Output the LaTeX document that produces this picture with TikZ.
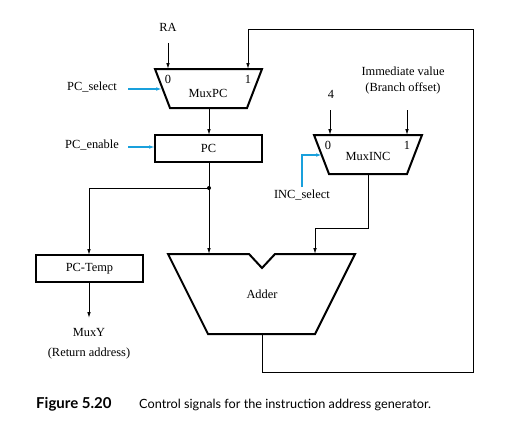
\documentclass[tikz,border=0pt]{standalone}
\usepackage{fontspec}
\setmainfont{Liberation Serif}
\newfontfamily\capfont{Lato}
\usetikzlibrary{arrows.meta,calc}
\definecolor{ctrlblue}{RGB}{25,160,220}
\tikzstyle{wire}=[line width=0.9pt, >={Latex[length=6pt,width=3.6pt]}]
\tikzstyle{blueE}=[line width=1.1pt, ctrlblue, >={Latex[length=6pt,width=3.6pt]}]
\tikzstyle{unitB}=[line width=2pt, line join=miter]
\tikzstyle{regB}=[draw, line width=2pt, minimum width=107pt, minimum height=27pt, inner sep=0pt, outer sep=0pt]
\tikzstyle{lbl}=[inner sep=1pt, font=\fontsize{12.4}{14}\selectfont]

\begin{document}
\begin{tikzpicture}[x=1pt,y=-1pt]
    \useasboundingbox (0,0) rectangle (526,436);

    %%%%%  MuxPC  %%%%%
    \draw [unitB] (155,69) -- (262,69) -- (247,108) -- (170,108) -- cycle;
    \node (muxpc) [lbl] at (208,93) {MuxPC};
    \node (mpc0)  [lbl] at (168,79) {0};
    \node (mpc1)  [lbl] at (248,79) {1};
    \coordinate (mpcIn0) at (168,69);
    \coordinate (mpcIn1) at (248,69);
    \coordinate (mpcOut) at (209,108);
    \coordinate (mpcSel) at (162,89);
    \node (RA)    [lbl] at (168,27) {RA};
    \coordinate (raEnd) at (168,43);
    \node (pcsel) [lbl] at (92,87) {PC\_select};
    \coordinate (pcselEnd) at (128,89);

    %%%%%  PC  %%%%%
    \node (pc) [regB, lbl] at (208.5,148.5) {PC};
    \node (pcen) [lbl] at (92,145) {PC\_enable};
    \coordinate (pcenEnd) at (128,147);
    \coordinate (pcIn) at (155,147);
    \coordinate (jn) at (209,188);
    \coordinate (jnL) at (89,188);

    %%%%%  PC-Temp  %%%%%
    \node (pctemp) [regB, lbl] at (89.5,268.5) {PC-Temp};
    \coordinate (tmpOut) at (89,318);
    \node (muxy) [lbl] at (89,332) {MuxY};
    \node (retad) [lbl] at (89,354) {(Return address)};

    %%%%%  MuxINC  %%%%%
    \draw [unitB] (314,135) -- (422,135) -- (407,174) -- (329,174) -- cycle;
    \node (muxinc) [lbl] at (368,156) {MuxINC};
    \node (minc0)  [lbl] at (328,145) {0};
    \node (minc1)  [lbl] at (407,145) {1};
    \coordinate (mincIn0) at (330,135);
    \coordinate (mincIn1) at (407,135);
    \coordinate (mincOut) at (368,174);
    \coordinate (mincSel) at (322,155);
    \node (four) [lbl] at (331,94) {4};
    \coordinate (fourEnd) at (330,110);
    \node (imm) [lbl] at (403,71) {Immediate value};
    \node (boff) [lbl] at (403,88) {(Branch offset)};
    \coordinate (immEnd) at (407,110);
    \node (incsel) [lbl] at (302,195) {INC\_select};
    \coordinate (incselEnd) at (302,187);

    %%%%%  Adder  %%%%%
    \draw [unitB] (168,254) -- (249,254) -- (262,268) -- (275,254) -- (355,254)
                  -- (315,334) -- (208,334) -- cycle;
    \node (adder) [lbl] at (262,294) {Adder};
    \coordinate (addA) at (209,254);
    \coordinate (addB) at (315,254);
    \coordinate (addOut) at (262,334);

    %%%%%  Conexiones  %%%%%
    \draw [wire, ->] (raEnd) -- (mpcIn0);
    \draw [wire, ->] (mpcOut) -- (pc.north -| mpcOut);
    \draw [wire] (pc.south -| jn) -- (jn);
    \fill (jn) circle (2pt);
    \draw [wire, ->] (jn) -- (jnL) -- (pctemp.north -| jnL);
    \draw [wire, ->] (jn) -- (addA);
    \draw [wire, ->] (pctemp.south -| tmpOut) -- (tmpOut);
    \draw [wire, ->] (fourEnd) -- (mincIn0);
    \draw [wire, ->] (immEnd) -- (mincIn1);
    \draw [wire, ->] (mincOut) -- ($(mincOut)+(0,54)$) -| (addB);
    \draw [wire, ->] (addOut) -- ($(addOut)+(0,38)$) -- ++(211,0) |- ($(mpcIn1)+(0,-40)$) -- (mpcIn1);

    %%%%%  Control  %%%%%
    \draw [blueE, ->] (pcselEnd) -- (mpcSel);
    \draw [blueE, ->] (pcenEnd) -- (pcIn);
    \draw [blueE, ->] (incselEnd) |- (mincSel);

    %%%%%  Caption  %%%%%
    \node (fig) [anchor=base west, inner sep=0pt, font=\capfont\bfseries\fontsize{15}{17}\selectfont] at (36,408) {Figure 5.20};
    \node (cap) [anchor=base west, inner sep=0pt, font=\capfont\fontsize{12.7}{15}\selectfont] at (139,408) {Control signals for the instruction address generator.};
\end{tikzpicture}
\end{document}
